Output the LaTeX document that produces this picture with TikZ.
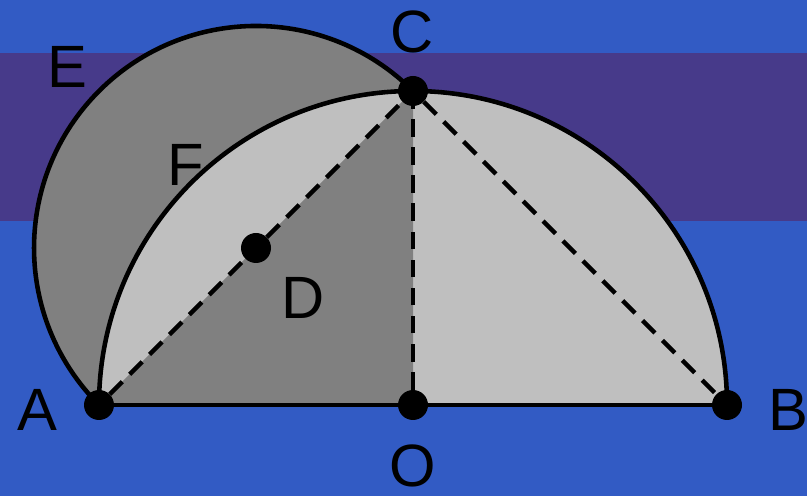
\documentclass[tikz,border=0pt]{standalone}
\usepackage{fontspec}
\setmainfont{Liberation Sans}
\usepackage{tikz}
\definecolor{bgblue}{RGB}{50,91,196}
\definecolor{bgpurple}{RGB}{71,58,138}
\definecolor{darkfill}{RGB}{128,128,128}
\definecolor{lightfill}{RGB}{191,191,191}
\tikzset{
  dot/.style={circle, fill=black, inner sep=0pt, minimum size=0.6cm},
  lbl/.style={font=\fontsize{34}{34}\selectfont},
  edge/.style={line width=2.6pt},
  dashedge/.style={line width=2.6pt, dash pattern=on 10pt off 6pt}
}
\begin{document}
\begin{tikzpicture}[x=0.02cm, y=0.02cm]
                    % Background
                    \fill[bgblue] (0,0) rectangle (807,496);
                    \fill[bgpurple] (0,275) rectangle (807,443);
                    \useasboundingbox (0,0) rectangle (807,496);
                    % Areas
                    \fill[darkfill] (413,405) arc[start angle=45, end angle=225, radius=222] -- cycle;
                    \fill[lightfill] (727,91) arc[start angle=0, end angle=180, radius=314] -- cycle;
                    \fill[darkfill] (99,91) -- (413,91) -- (413,405) -- cycle;
                    \draw[edge] (413,405) arc[start angle=45, end angle=225, radius=222];
                    \draw[edge] (727,91) arc[start angle=0, end angle=180, radius=314];
                    % Nodes
                    \node[dot] (A) at (99,91) {};
                    \node[dot] (O) at (413,91) {};
                    \node[dot] (B) at (727,91) {};
                    \node[dot] (C) at (413,405) {};
                    \node[dot] (D) at (256,248) {};
                    \node[lbl] (Al) at (37,86) {A};
                    \node[lbl] (Ol) at (413,30) {O};
                    \node[lbl] (Bl) at (788,86) {B};
                    \node[lbl] (Cl) at (412,464) {C};
                    \node[lbl] (Dl) at (303,198) {D};
                    \node[lbl] (El) at (67,429) {E};
                    \node[lbl] (Fl) at (186,331) {F};
                    % Edges
                    \draw[edge] (A) -- (O);
                    \draw[edge] (O) -- (B);
                    \draw[dashedge] (A) -- (D);
                    \draw[dashedge] (D) -- (C);
                    \draw[dashedge] (O) -- (C);
                    \draw[dashedge] (C) -- (B);
                \end{tikzpicture}
\end{document}
